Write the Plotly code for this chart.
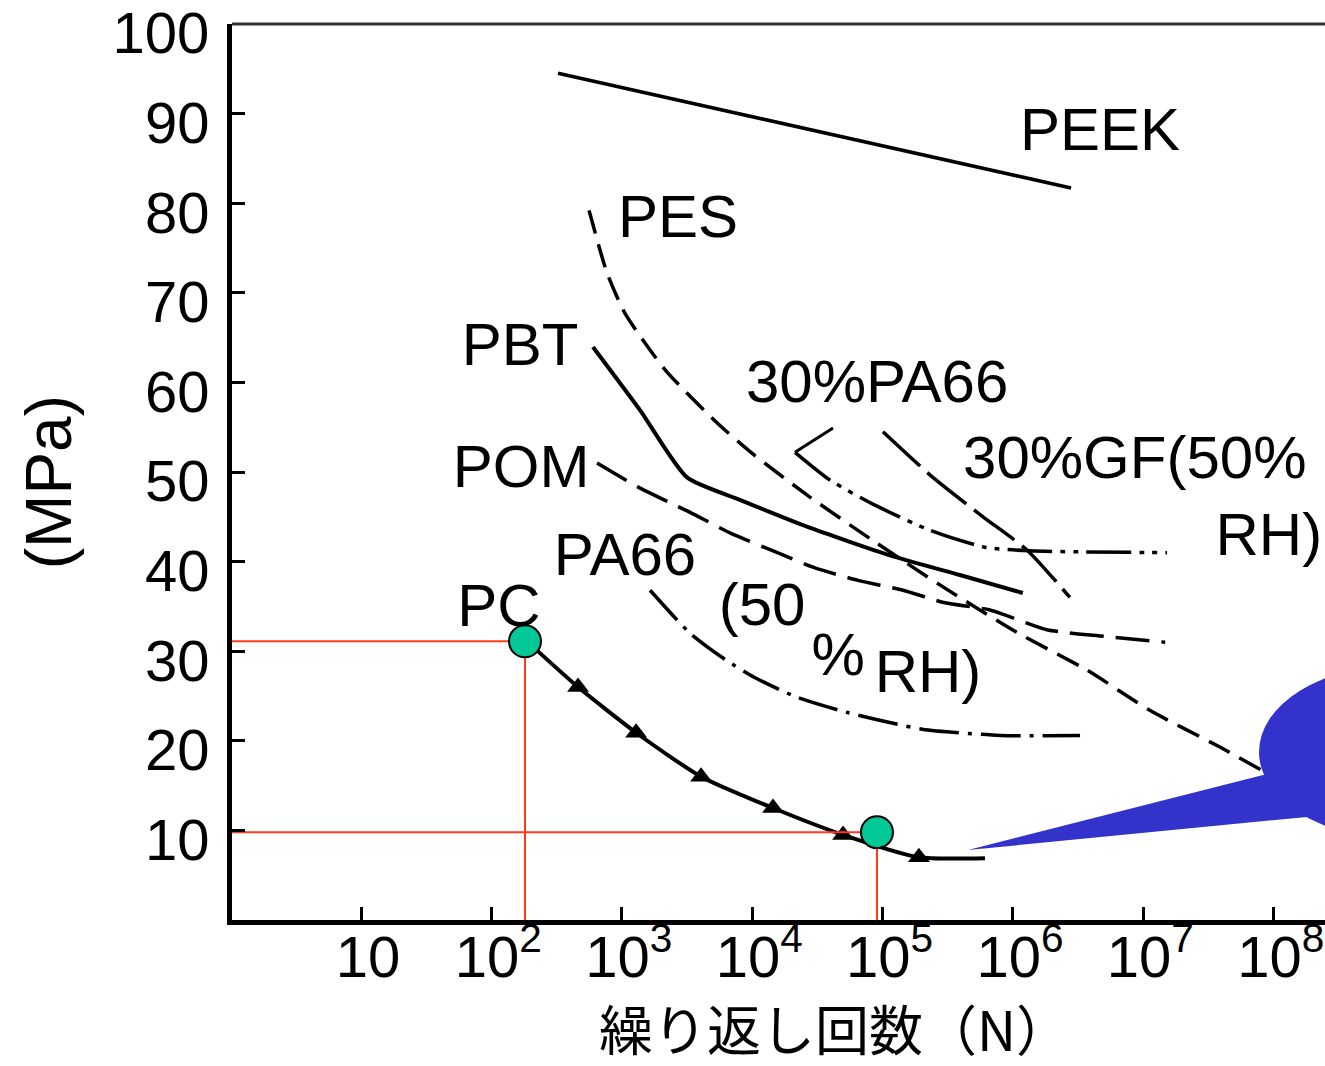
import plotly.graph_objects as go

# ---------------- data ----------------
peek_n = [324, 2.79e6]
peek_s = [94.5, 81.7]

pes_n = [561, 771, 1059, 2150, 5370, 9950, 27700, 87300, 2.75e5, 1.07e6, 3.69e6, 1.12e7, 3.86e7, 8.11e7]
pes_s = [79.2, 72.2, 67.7, 61.4, 55.5, 52.1, 47.2, 42.2, 37.4, 32.1, 27.9, 23.4, 19.3, 16.7]

pa66gf_n = [21300, 39500, 87300, 2.31e5, 6.10e5, 1.35e6, 1.52e7]
pa66gf_s = [52.2, 49.1, 46.3, 43.5, 41.6, 41.2, 41.0]

gfrh_n = [1.007e5, 2.43e5, 5.89e5, 1.28e6, 2.735e6]
gfrh_s = [54.5, 49.4, 45.0, 41.3, 36.0]

pbt_n = [601, 1380, 3162, 8054, 26300, 1.14e5, 3.92e5, 1.19e6]
pbt_s = [63.95, 56.9, 49.4, 46.9, 43.9, 40.7, 38.5, 36.5]

pom_n = [646, 1380, 3342, 6761, 14960, 30340, 64860, 1.435e5, 3.01e5, 6.67e5, 1.82e6, 4.66e6, 1.47e7]
pom_s = [51.0, 48.2, 45.5, 43.2, 41.1, 39.3, 37.9, 36.8, 35.4, 34.6, 32.4, 31.7, 31.0]

pa66_n = [1648, 3342, 6310, 10350, 21730, 52480, 2.01e5, 7.96e5, 3.27e6]
pa66_s = [36.8, 32.0, 29.0, 27.1, 24.9, 23.2, 21.3, 20.6, 20.6]

pc_n = [172, 462, 1288, 4055, 14450, 49770, 1.90e5, 6.10e5]
pc_s = [31.6, 26.0, 20.9, 16.0, 12.5, 9.5, 7.0, 6.9]
pc_pts_n = [462, 1288, 4055, 14450, 49770, 1.90e5]
pc_pts_s = [26.0, 20.9, 16.0, 12.5, 9.5, 7.0]

mark_n = [181, 90570]
mark_s = [31.1, 9.8]

leader_n = [41700, 21300]
leader_s = [54.9, 52.2]

label_text = ["PEEK", "PES", "PBT", "POM", "PA66", "PC", "30%PA66",
              "(50", "%", "RH)"]
label_n = [4.65e6, 2700, 166, 169, 1059, 114, 90800, 11900, 45600, 2.23e5]
label_s = [87.6, 77.9, 63.6, 50.0, 40.2, 34.5, 59.5, 34.6, 29.0, 27.1]

gf_label_text = ["30%GF(50%", "RH)"]
gf_label_n = [4.14e5, 2.35e8]
gf_label_s = [51.0, 42.4]

x_tickvals = [10, 1e2, 1e3, 1e4, 1e5, 1e6, 1e7, 1e8]
x_ticktext = ["10", "10<sup>2</sup>", "10<sup>3</sup>", "10<sup>4</sup>", "10<sup>5</sup>",
              "10<sup>6</sup>", "10<sup>7</sup>", "10<sup>8</sup>"]
y_tickvals = [10, 20, 30, 40, 50, 60, 70, 80, 90, 100]
y_ticktext = ["10", "20", "30", "40", "50", "60", "70", "80", "90", "100"]

x_title = "繰り返し回数（N）"
y_title = "(MPa)"

# ---------------- figure ----------------
X_RANGE = [0.0107, 8.393]
LBL_FONT = "Liberation Sans, Arial, sans-serif"
NUM_FONT = "Liberation Sans Narrow, Liberation Sans, Arial, sans-serif"
CJK_FONT = "Noto Sans CJK JP, sans-serif"

fig = go.Figure()

def add_line(n, s, dash="solid", width=3.5):
    fig.add_trace(go.Scatter(x=n, y=s, mode="lines",
                             line=dict(color="black", width=width, dash=dash,
                                       shape="spline", smoothing=0.6),
                             hoverinfo="skip", showlegend=False))

add_line(peek_n, peek_s, "solid", 3.5)
add_line(pes_n, pes_s, "24px,11px", 3.5)
add_line(pa66gf_n, pa66gf_s, "45px,8px,5px,8px,5px,8px", 3.5)
add_line(gfrh_n, gfrh_s, "50px,10px", 3.5)
add_line(pbt_n, pbt_s, "solid", 4)
add_line(pom_n, pom_s, "34px,12px", 3.5)
add_line(pa66_n, pa66_s, "40px,9px,4px,9px", 3.5)
add_line(pc_n, pc_s, "solid", 4)
fig.add_trace(go.Scatter(x=leader_n, y=leader_s, mode="lines",
                         line=dict(color="black", width=3), hoverinfo="skip",
                         showlegend=False))

fig.add_trace(go.Scatter(x=pc_pts_n, y=pc_pts_s, mode="markers",
                         marker=dict(symbol="triangle-up", size=19, color="black"),
                         hoverinfo="skip", showlegend=False))

# red guide lines from the marked points to the axes
x_left = 10 ** X_RANGE[0]
for n, s in zip(mark_n, mark_s):
    fig.add_trace(go.Scatter(x=[x_left, n, n], y=[s, s, 0], mode="lines",
                             line=dict(color="#ff3a1a", width=2),
                             hoverinfo="skip", showlegend=False))

fig.add_trace(go.Scatter(x=mark_n, y=mark_s, mode="markers",
                         marker=dict(size=32, color="#00c896",
                                     line=dict(color="black", width=2)),
                         hoverinfo="skip", showlegend=False))

# curve labels
fig.add_trace(go.Scatter(x=label_n, y=label_s, text=label_text, mode="text",
                         textposition="middle center",
                         textfont=dict(family=LBL_FONT, size=60, color="black"),
                         hoverinfo="skip", showlegend=False))
fig.add_trace(go.Scatter(x=gf_label_n, y=gf_label_s, text=gf_label_text, mode="text",
                         textposition=["middle right", "middle left"],
                         textfont=dict(family=LBL_FONT, size=60, color="black"),
                         hoverinfo="skip", showlegend=False))

fig.update_xaxes(type="log", range=X_RANGE, showgrid=False, zeroline=False,
                 showline=True, linecolor="black", linewidth=5,
                 ticks="inside", ticklen=13, tickwidth=3, tickcolor="black",
                 tickvals=x_tickvals, ticktext=x_ticktext,
                 tickfont=dict(family=NUM_FONT, size=58, color="black"),
                 ticklabelstandoff=-18, ticklabelshift=7,
                 ticklabeloverflow="allow", automargin=False)
fig.update_yaxes(range=[0, 100], showgrid=False, zeroline=False,
                 showline=True, linecolor="black", linewidth=5,
                 ticks="inside", ticklen=13, tickwidth=3, tickcolor="black",
                 tickvals=y_tickvals, ticktext=y_ticktext,
                 tickfont=dict(family=NUM_FONT, size=58, color="black"),
                 ticklabelstandoff=6, ticklabelshift=9,
                 ticklabeloverflow="allow", automargin=False)

# top frame line and the blue callout
shapes = [
    dict(type="line", xref="paper", yref="paper", x0=0, x1=1, y0=1, y1=1,
         line=dict(color="#333333", width=3)),
    dict(type="circle", xref="paper", yref="paper",
         x0=0.9396, x1=1.1976, y0=0.0904, y1=0.2846,
         fillcolor="#3333cc", line=dict(width=0)),
    dict(type="path", xref="paper", yref="paper",
         path="M 0.6734 0.0781 L 0.9433 0.1618 L 1.02 0.17 L 1.02 0.10 L 0.9835 0.1150 Z",
         fillcolor="#3333cc", line=dict(width=0)),
]

annotations = [
    dict(text=x_title, xref="paper", yref="paper", x=0.551, y=-0.120,
         xanchor="center", yanchor="middle", showarrow=False,
         font=dict(family=CJK_FONT, size=54, color="black")),
    dict(text=y_title, xref="paper", yref="paper", x=-0.168, y=0.489,
         xanchor="center", yanchor="middle", showarrow=False, textangle=-90,
         font=dict(family=NUM_FONT, size=64, color="black")),
]

fig.update_layout(width=1325, height=1066,
                  margin=dict(l=232, r=0, t=24, b=146, pad=0, autoexpand=False),
                  plot_bgcolor="white", paper_bgcolor="white",
                  shapes=shapes, annotations=annotations, showlegend=False)

fig.write_html("out.html")
